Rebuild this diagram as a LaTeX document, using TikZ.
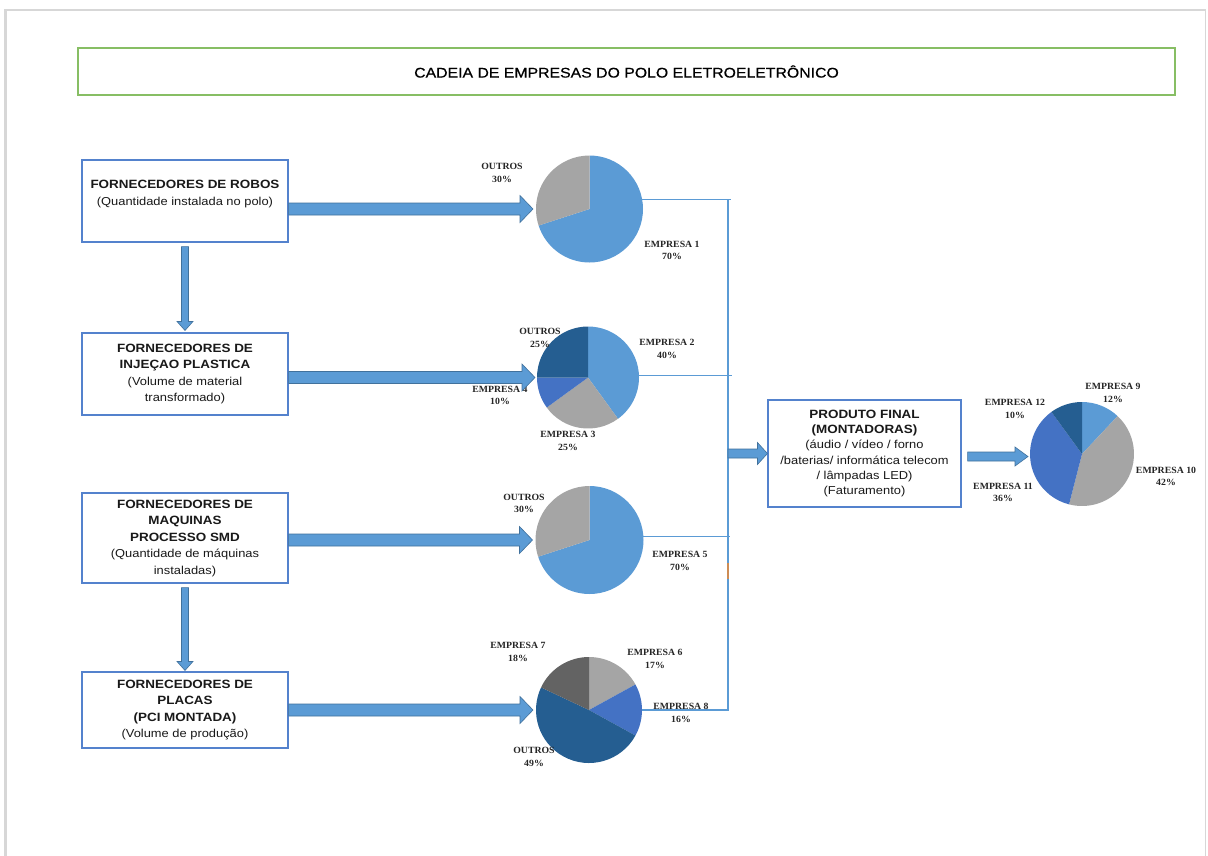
\documentclass[tikz,border=0pt]{standalone}
\usepackage{fontspec}
\setmainfont{Liberation Sans}
\newfontfamily\boxfont[FakeStretch=1.12]{Liberation Sans}
\newfontfamily\titlefont[FakeStretch=1.13,FakeBold=0.6]{Liberation Sans}
\newfontfamily\pielbl[FakeStretch=1.03]{Liberation Serif}
\usetikzlibrary{calc}

\definecolor{piLight}{HTML}{5B9BD5}
\definecolor{piGray}{HTML}{A5A5A5}
\definecolor{piMed}{HTML}{4472C4}
\definecolor{piDark}{HTML}{255E91}
\definecolor{piDGray}{HTML}{636363}
\definecolor{boxBlue}{RGB}{84,130,205}
\definecolor{frameGreen}{RGB}{135,190,100}
\definecolor{arrFill}{HTML}{5B9BD5}
\definecolor{arrEdge}{HTML}{41719C}
\definecolor{busBlue}{HTML}{5B9BD5}
\definecolor{frameGray}{RGB}{215,215,215}
\definecolor{tickOrange}{RGB}{205,140,85}

\tikzset{
  supbox/.style={draw=boxBlue, line width=1.1pt, minimum width=206pt,
    align=center, inner sep=2pt,
    font=\boxfont\fontsize{11.5}{16.5}\selectfont, text=black!90},
  titlebox/.style={draw=frameGreen, line width=1.2pt, minimum width=1097pt,
    minimum height=47pt, font=\titlefont\fontsize{14}{16}\selectfont, text=black},
  pielabel/.style={align=center, inner sep=0pt, text=black!85,
    font=\pielbl\bfseries\fontsize{9.5}{12.5}\selectfont},
  blockarrow/.style={fill=arrFill, draw=arrEdge, line width=0.6pt},
  bus/.style={draw=busBlue, line width=1.2pt},
  piedisc/.style={circle, inner sep=0pt, outer sep=0pt},
}

% bold heading line inside a supplier box
\newcommand\hd[1]{{\bfseries\fontsize{12}{16.5}\selectfont #1}}
% one pie slice: node, start angle, end angle, radius, colour
\newcommand\slice[5]{\fill[#5] (#1.center) -- ++(#2:#4) arc[start angle=#2, end angle=#3, radius=#4] -- cycle;}
% horizontal block arrow: start, tip, shaft half height, head half height, head length
\newcommand\harrow[5]{\path[blockarrow] let \p1=#1, \p2=#2 in
  (\x1,\y1+#3pt) -- (\x2-#5pt,\y1+#3pt) -- (\x2-#5pt,\y1+#4pt) -- (\x2,\y1)
  -- (\x2-#5pt,\y1-#4pt) -- (\x2-#5pt,\y1-#3pt) -- (\x1,\y1-#3pt) -- cycle;}
% downward block arrow: start, tip, shaft half width, head half width, head length
\newcommand\varrow[5]{\path[blockarrow] let \p1=#1, \p2=#2 in
  (\x1+#3pt,\y1) -- (\x1+#3pt,\y2+#5pt) -- (\x1+#4pt,\y2+#5pt) -- (\x1,\y2)
  -- (\x1-#4pt,\y2+#5pt) -- (\x1-#3pt,\y2+#5pt) -- (\x1-#3pt,\y1) -- cycle;}

\begin{document}
\begin{tikzpicture}[x=1pt,y=1pt]
\useasboundingbox (0,0) rectangle (1208,-855);
\fill[white] (0,0) rectangle (1208,-855);

% page frame
\draw[frameGray, line width=3] (5,-870) -- (5,-10);
\draw[frameGray, line width=2] (4,-10) -- (1206,-10);
\draw[frameGray, line width=1] (1205,-10) -- (1205,-870);

% title
\node[titlebox] (title) at (626.5,-71.5) {CADEIA DE EMPRESAS DO POLO ELETROELETRÔNICO};

% supplier boxes
\node[supbox, minimum height=82pt] (rob) at (185,-201)
  {\hd{FORNECEDORES DE ROBOS}\\(Quantidade instalada no polo)\\~};
\node[supbox, minimum height=82pt] (inj) at (185,-374)
  {\hd{FORNECEDORES DE}\\\hd{INJEÇAO PLASTICA}\\(Volume de material\\transformado)};
\node[supbox, minimum height=90pt] (maq) at (185,-538)
  {\hd{FORNECEDORES DE}\\\hd{MAQUINAS}\\\hd{PROCESSO SMD}\\(Quantidade de máquinas\\instaladas)};
\node[supbox, minimum height=76pt] (pla) at (185,-710)
  {\hd{FORNECEDORES DE}\\\hd{PLACAS}\\\hd{(PCI MONTADA)}\\(Volume de produção)};
\node[supbox, minimum width=193pt, minimum height=107pt,
      font=\boxfont\fontsize{11.5}{15.2}\selectfont] (prod) at (864.5,-453.5)
  {\hd{PRODUTO FINAL}\\\hd{(MONTADORAS)}\\(áudio / vídeo / forno\\/baterias/ informática telecom\\/ lâmpadas LED)\\(Faturamento)};

% pies
\node[piedisc, minimum size=107pt] (pA) at (589.5,-209) {};
\slice{pA}{90}{-162}{53.5}{piLight}
\slice{pA}{-162}{-270}{53.5}{piGray}

\node[piedisc, minimum size=102pt] (pB) at (588,-377.5) {};
\slice{pB}{90}{-54}{51}{piLight}
\slice{pB}{-54}{-144}{51}{piGray}
\slice{pB}{-144}{-180}{51}{piMed}
\slice{pB}{-180}{-270}{51}{piDark}

\node[piedisc, minimum size=108pt] (pC) at (589.5,-540) {};
\slice{pC}{90}{-162}{54}{piLight}
\slice{pC}{-162}{-270}{54}{piGray}

\node[piedisc, minimum size=106pt] (pD) at (589,-710) {};
\slice{pD}{90}{28.8}{53}{piGray}
\slice{pD}{28.8}{-28.8}{53}{piMed}
\slice{pD}{-28.8}{-205.2}{53}{piDark}
\slice{pD}{-205.2}{-270}{53}{piDGray}

\node[piedisc, minimum size=104pt] (pE) at (1082,-454) {};
\slice{pE}{90}{46.8}{52}{piLight}
\slice{pE}{46.8}{-104.4}{52}{piGray}
\slice{pE}{-104.4}{-234}{52}{piMed}
\slice{pE}{-234}{-270}{52}{piDark}

% collecting line to the final product
\coordinate (busX) at (728,0);
\draw[bus] (pA.10 -| busX) -- (pD.east -| busX);
\draw[bus] (pA.10) -- ($(pA.10 -| busX)+(3,0)$);
\draw[bus] (pB.2) -- ($(pB.2 -| busX)+(4,0)$);
\draw[bus] (pC.4) -- ($(pC.4 -| busX)+(2,0)$);
\draw[bus] (pD.east) -- ($(pD.east -| busX)+(1,0)$);
\coordinate (tickA) at (728,-563);
\coordinate (tickB) at (728,-579);
\draw[tickOrange, line width=1.5pt] (tickA) -- (tickB);

% pie labels
\node[pielabel] (lA1) at (502,-173) {OUTROS\\30\%};
\node[pielabel] (lA2) at (672,-250.5) {EMPRESA 1\\70\%};
\node[pielabel] (lB1) at (540,-338) {OUTROS\\25\%};
\node[pielabel] (lB2) at (667,-349) {EMPRESA 2\\40\%};
\node[pielabel] (lB3) at (500,-395.5) {EMPRESA 4\\10\%};
\node[pielabel] (lB4) at (568,-441) {EMPRESA 3\\25\%};
\node[pielabel] (lC1) at (524,-503.5) {OUTROS\\30\%};
\node[pielabel] (lC2) at (680,-561) {EMPRESA 5\\70\%};
\node[pielabel] (lD1) at (518,-652) {EMPRESA 7\\18\%};
\node[pielabel] (lD2) at (655,-659) {EMPRESA 6\\17\%};
\node[pielabel] (lD3) at (681,-713) {EMPRESA 8\\16\%};
\node[pielabel] (lD4) at (534,-757) {OUTROS\\49\%};
\node[pielabel] (lE1) at (1113,-393) {EMPRESA 9\\12\%};
\node[pielabel] (lE2) at (1015,-409) {EMPRESA 12\\10\%};
\node[pielabel] (lE3) at (1166,-476.5) {EMPRESA 10\\42\%};
\node[pielabel] (lE4) at (1003,-492.5) {EMPRESA 11\\36\%};

% block arrows
\harrow{(rob.east |- pA.center)}{($(pA.west)+(-3,0)$)}{6}{13.5}{13}
\harrow{(inj.east |- pB.center)}{($(pB.west)+(-2,0)$)}{6}{13.5}{13}
\harrow{(maq.east |- pC.center)}{($(pC.west)+(-3,0)$)}{6}{13.5}{13}
\harrow{(pla.east |- pD.center)}{($(pD.west)+(-3,0)$)}{6}{13.5}{13}
\varrow{($(rob.south)+(0,-4)$)}{($(inj.north)+(0,2)$)}{3.5}{8}{9}
\varrow{($(maq.south)+(0,-4)$)}{($(pla.north)+(0,1)$)}{3.5}{8}{9}
\harrow{(busX |- prod.west)}{(prod.west)}{4.5}{11}{10}
\harrow{($(prod.east)+(6,-3)$)}{($(pE.west)+(-2,0)$)}{4.5}{9.5}{13}
\end{tikzpicture}
\end{document}
